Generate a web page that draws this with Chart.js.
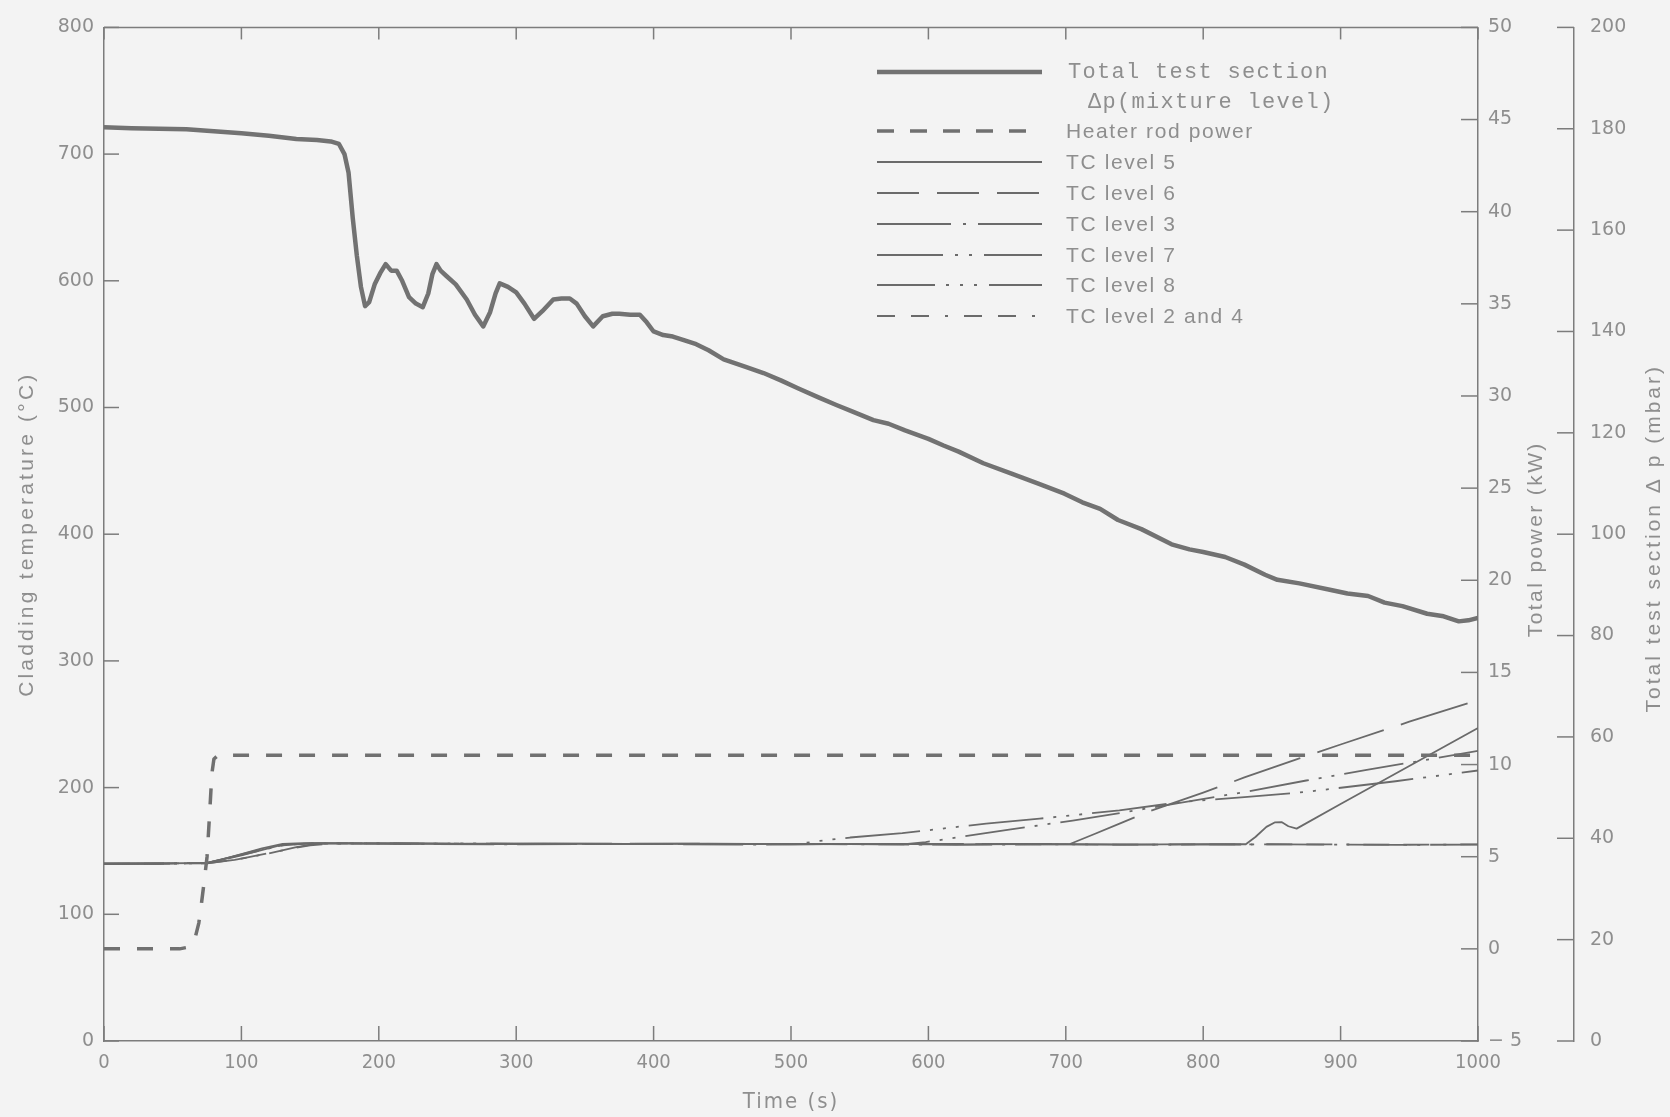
<!DOCTYPE html>
<html><head><meta charset="utf-8">
<script src="https://cdn.jsdelivr.net/npm/chart.js@4.4.1/dist/chart.umd.min.js"></script>
<style>html,body{margin:0;padding:0;background:#f3f3f3;overflow:hidden}canvas{display:block}</style>
</head><body><canvas id="c" width="1670" height="1117"></canvas>
<script>
// ---------- data ----------
const timeTicks = [0,100,200,300,400,500,600,700,800,900,1000];
const tempTicks = [0,100,200,300,400,500,600,700,800];
const powerTicks = [-5,0,5,10,15,20,25,30,35,40,45,50];
const dpTicks = [0,20,40,60,80,100,120,140,160,180,200];

// Total test section Δp (mixture level), mbar
const mixTime = [0,20,40,60,80,100,120,140,155,165,171,175,178,181,184,187,190,193,197,201,205,209,213,217,222,227,232,236,239,242,245,249,256,264,270,276,281,285,288,294,300,306,313,319,327,333,339,344,350,356,363,370,375,383,390,395,400,407,414,422,431,440,451,467,480,493,505,520,533,544,560,571,583,600,611,622,640,660,680,699,712,725,738,755,777,790,800,816,830,845,854,870,893,905,920,932,945,963,975,986,993,1000];
const mixLevel = [180.3,180.1,180,179.9,179.5,179.1,178.6,178,177.8,177.5,177,175,171.3,162.5,155,148.8,145,145.8,149.3,151.5,153.3,152,152,150,146.8,145.5,144.8,147.5,151.3,153.3,152,151,149.3,146.3,143.3,141,143.8,147.5,149.5,148.8,147.7,145.5,142.5,144,146.3,146.5,146.5,145.5,143,141,143,143.5,143.5,143.3,143.3,141.8,140,139.3,139,138.3,137.5,136.3,134.5,133,131.8,130.3,128.8,127,125.5,124.3,122.5,121.8,120.5,118.8,117.5,116.3,114,112,110,108,106.3,105,102.8,101,98,97,96.5,95.5,94,92,91,90.3,89,88.3,87.8,86.5,85.8,84.3,83.8,82.8,83,83.5];

// Heater rod power, kW
const heaterTime = [0,30,55,62,66,69,71,73,75,77,78.5,80,83,200,400,600,800,1000];
const heaterPower = [0,0,0,0.1,0.5,1.4,2.5,3.7,5.0,7.5,9.5,10.3,10.5,10.5,10.5,10.5,10.5,10.5];

// Thermocouple cladding temperatures, °C
const tc5Time = [0,40,75,85,100,115,130,145,200,260,320,380,440,500,560,620,680,740,800,831,838,846,852,857,862,868,900,950,1000];
const tc5Temp = [140,140.2,140.5,143,147.5,152,155.5,156.2,156,155.6,156,155.5,155.8,155.3,155.6,155.2,155.5,155,155.4,155.3,161,169,172.5,172.8,169.5,167.6,187,217,247];

const tc6Time = [0,40,75,90,110,130,150,200,300,400,500,600,703,720,740,760,780,800,830,870,900,950,1000];
const tc6Temp = [140,140,140.5,144.5,150,154.5,156,156,155.6,155.8,155.4,155.5,155.5,163,172,181,188.5,196,208,223,234,252,269];

const tc3Time = [0,40,75,95,120,140,155,220,300,380,460,540,620,700,780,860,940,1000];
const tc3Temp = [139.8,140,140.3,143,148,153,155.8,155.6,155.2,155.6,155,155.4,154.8,155.3,154.9,155.2,154.8,155];

const tc7Time = [0,40,75,100,130,150,250,400,500,585,598,623,660,705,740,783,830,875,919,960,1000];
const tc7Temp = [140,140.1,140.6,147,154.5,156,155.8,155.5,155.6,155.5,157,161,167,174,180,188,196.5,205.6,214,221.5,229];

const tc8Time = [0,40,75,100,130,150,250,350,450,505,521,543,581,642,681,739,783,830,873,940,1000];
const tc8Temp = [140,140,140.4,146.5,155,156,155.7,155.5,155.4,155.5,158,160.6,164,171.6,175.5,182,188.5,192.5,196.4,205,213.5];

const tc24Time = [0,40,75,100,125,150,170,250,350,450,550,650,750,850,950,1000];
const tc24Temp = [140,140,140.2,144,149.5,154.5,156,155.8,155.4,155.6,155.2,155.4,155,155.3,154.9,155.2];

const axisTitles = {
  x: 'Time (s)',
  y: 'Cladding temperature (\u00b0C)',
  y2: 'Total power (kW)',
  y3: 'Total test section \u0394 p (mbar)'
};

// ---------- styling ----------
const AXIS = '#7c7c7c', TEXT = '#8e8e8e', LINE = '#6a6a6a';
const SANS = "'Liberation Sans', Arial, sans-serif";
const WIDE = "'DejaVu Sans', Verdana, sans-serif";
const NARROW = "'Liberation Sans Narrow', 'DejaVu Sans Condensed', 'Roboto Condensed', 'Liberation Sans', sans-serif";

const pts = (xs, ys) => xs.map((x, i) => ({x, y: ys[i]}));

const datasets = [
  {label: 'Total test section\nΔp(mixture level)', data: pts(mixTime, mixLevel), yAxisID: 'y3', borderColor: '#727272', borderWidth: 4.5, legendDash: [], mono: true},
  {label: 'Heater rod power', data: pts(heaterTime, heaterPower), yAxisID: 'y2', borderColor: '#707070', borderWidth: 3.5, borderDash: [16, 17], legendDash: [17, 16]},
  {label: 'TC level 5', data: pts(tc5Time, tc5Temp), yAxisID: 'y', borderColor: LINE, borderWidth: 1.8, legendDash: []},
  {label: 'TC level 6', data: pts(tc6Time, tc6Temp), yAxisID: 'y', borderColor: LINE, borderWidth: 1.8, borderDash: [70, 18], legendDash: [42, 18]},
  {label: 'TC level 3', data: pts(tc3Time, tc3Temp), yAxisID: 'y', borderColor: LINE, borderWidth: 1.8, borderDash: [60, 10, 3, 10], legendDash: [74, 12, 3, 12]},
  {label: 'TC level 7', data: pts(tc7Time, tc7Temp), yAxisID: 'y', borderColor: LINE, borderWidth: 1.8, borderDash: [60, 10, 3, 10, 3, 10], legendDash: [66, 12, 3, 11, 3, 12]},
  {label: 'TC level 8', data: pts(tc8Time, tc8Temp), yAxisID: 'y', borderColor: LINE, borderWidth: 1.8, borderDash: [75, 10, 3, 10, 3, 10, 3, 10], legendDash: [58, 11, 3, 11, 3, 11, 3, 12]},
  {label: 'TC level 2 and 4', data: pts(tc24Time, tc24Temp), yAxisID: 'y', borderColor: LINE, borderWidth: 1.8, borderDash: [26, 14, 26, 14, 3, 14], legendDash: [18, 16, 18, 16, 3, 16]}
];
datasets.forEach(d => { d.pointRadius = 0; d.tension = 0; d.fill = false; d.borderJoinStyle = 'round'; d.borderCapStyle = 'butt'; });

const setTicks = arr => s => { s.ticks = arr.map(v => ({value: v})); };

// inward tick marks, top border, axis titles, legend
const framePlugin = {
  id: 'frame',
  afterDraw(chart) {
    const {ctx, chartArea: {left, right, top, bottom}, scales} = chart;
    ctx.save();
    ctx.strokeStyle = AXIS; ctx.lineWidth = 1.5; ctx.setLineDash([]);
    const seg = (a, b, c, d) => { ctx.beginPath(); ctx.moveTo(a, b); ctx.lineTo(c, d); ctx.stroke(); };
    seg(left, top, right, top);
    scales.x.ticks.forEach(t => { const p = scales.x.getPixelForValue(t.value); seg(p, bottom, p, bottom - 15); seg(p, top, p, top + 12); });
    scales.y.ticks.forEach(t => { const p = scales.y.getPixelForValue(t.value); seg(left, p, left + 15, p); });
    const x2 = scales.y2.left, x3 = scales.y3.left;
    scales.y2.ticks.forEach(t => { const p = scales.y2.getPixelForValue(t.value); seg(x2, p, x2 - 17, p); });
    scales.y3.ticks.forEach(t => { const p = scales.y3.getPixelForValue(t.value); seg(x3, p, x3 - 17, p); });
    // axis titles
    ctx.fillStyle = TEXT; ctx.textAlign = 'center'; ctx.textBaseline = 'middle';
    const midY = (top + bottom) / 2;
    const vtitle = (x, y, txt, font, ls) => {
      ctx.save(); ctx.font = font; ctx.letterSpacing = ls;
      ctx.translate(x, y); ctx.rotate(-Math.PI / 2); ctx.fillText(txt, 0, 0); ctx.restore();
    };
    vtitle(27, midY, axisTitles.y, "21px " + SANS, '3.2px');
    vtitle(x2 + 58, midY + 5, axisTitles.y2, "21px " + SANS, '2.4px');
    vtitle(x3 + 80, midY + 4, axisTitles.y3, "21px " + SANS, '3px');
    ctx.save(); ctx.font = "22px " + NARROW; ctx.letterSpacing = '2px';
    ctx.fillText(axisTitles.x, (left + right) / 2, 1102); ctx.restore();
    ctx.restore();
  },
  afterDatasetsDraw(chart) {
    const ctx = chart.ctx;
    const x0 = 877, x1 = 1042, tx = 1066;
    const rows = [72, 131, 162, 193, 224, 255, 285, 316];
    chart.data.datasets.forEach((ds, i) => {
      const y = rows[i];
      ctx.save();
      ctx.strokeStyle = ds.borderColor; ctx.lineWidth = ds.borderWidth;
      ctx.setLineDash(ds.legendDash || []);
      ctx.beginPath(); ctx.moveTo(x0, y); ctx.lineTo(x1, y); ctx.stroke();
      ctx.setLineDash([]);
      ctx.fillStyle = TEXT; ctx.textAlign = 'left'; ctx.textBaseline = 'middle';
      if (ds.mono) {
        ctx.font = "22px 'Liberation Mono', 'DejaVu Sans Mono', monospace";
        ctx.letterSpacing = '1.3px';
        const lines = ds.label.split('\n');
        ctx.fillText(lines[0], tx + 2, y);
        ctx.fillText(lines[1], tx + 22, y + 30);
      } else {
        ctx.font = "21px " + SANS;
        ctx.letterSpacing = '1.6px';
        ctx.fillText(ds.label, tx, y + 1);
      }
      ctx.restore();
    });
  }
};

const tickFont = {family: WIDE, size: 19};
const plain = v => v < 0 ? '\u2212 ' + Math.abs(v) : String(v);

new Chart(document.getElementById('c'), {
  type: 'line',
  data: {datasets},
  options: {
    responsive: false, animation: false, devicePixelRatio: 1,
    layout: {padding: {top: 27, left: 0, right: 0, bottom: 0}},
    plugins: {legend: {display: false}, tooltip: {enabled: false}},
    elements: {point: {radius: 0}},
    scales: {
      x: {
        type: 'linear', position: 'bottom', min: 0, max: 1000,
        afterBuildTicks: setTicks(timeTicks),
        ticks: {color: TEXT, font: {family: NARROW, size: 20}, padding: 10, maxRotation: 0, autoSkip: false, callback: plain},
        grid: {drawOnChartArea: false, drawTicks: false},
        border: {display: true, color: AXIS, width: 1.5},
        afterFit: s => { s.height = 76; }
      },
      y: {
        type: 'linear', position: 'left', min: 0, max: 800,
        afterBuildTicks: setTicks(tempTicks),
        ticks: {color: TEXT, font: tickFont, padding: 10, autoSkip: false, callback: plain},
        grid: {drawOnChartArea: false, drawTicks: false},
        border: {display: true, color: AXIS, width: 1.5},
        afterFit: s => { s.width = 104; }
      },
      y2: {
        type: 'linear', position: 'right', min: -5, max: 50, weight: 0,
        afterBuildTicks: setTicks(powerTicks),
        ticks: {color: TEXT, font: tickFont, padding: 10, autoSkip: false, callback: plain},
        grid: {drawOnChartArea: false, drawTicks: false},
        border: {display: true, color: AXIS, width: 1.5},
        afterFit: s => { s.width = 96; }
      },
      y3: {
        type: 'linear', position: 'right', min: 0, max: 200, weight: 1,
        afterBuildTicks: setTicks(dpTicks),
        ticks: {color: TEXT, font: tickFont, padding: 16, autoSkip: false, callback: plain},
        grid: {drawOnChartArea: false, drawTicks: false},
        border: {display: true, color: AXIS, width: 1.5},
        afterFit: s => { s.width = 96; }
      }
    }
  },
  plugins: [framePlugin]
});
</script></body></html>
